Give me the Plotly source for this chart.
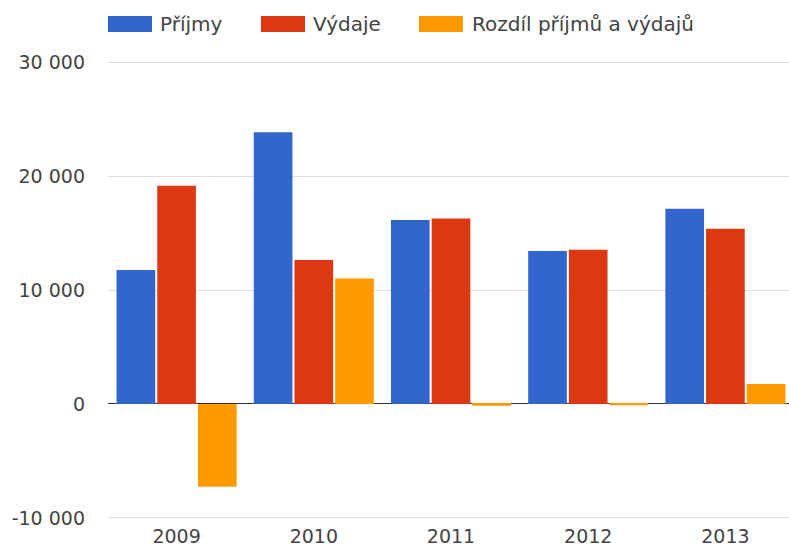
import plotly.graph_objects as go

years = ["2009", "2010", "2011", "2012", "2013"]
prijmy = [11750, 23850, 16150, 13420, 17130]
vydaje = [19150, 12630, 16280, 13540, 15380]
rozdil = [-7250, 11000, -150, -120, 1750]
series_names = ["Příjmy", "Výdaje", "Rozdíl příjmů a výdajů"]
colors = ["#3366cc", "#dc3912", "#ff9900"]
y_tickvals = [-10000, 0, 10000, 20000, 30000]
y_ticktext = ["-10 000", "0", "10 000", "20 000", "30 000"]

W, H = 789, 547
ML, MR, MT, MB = 108, 0, 61, 28
PW, PH = W - ML - MR, H - MT - MB
FONT = "DejaVu Sans"
TXT = "#444444"

fig = go.Figure()
for name, vals, col in zip(series_names, [prijmy, vydaje, rozdil], colors):
    fig.add_trace(go.Bar(x=years, y=vals, name=name, marker=dict(color=col, line=dict(width=0)),
                         showlegend=False))

def px2x(px):
    return (px - ML) / PW

def py2y(py):
    return (H - MB - py) / PH

# custom legend (swatches + labels)
legend_items = [(108, 152, 160), (261, 305, 313), (419, 463, 472)]
shapes = []
annotations = []
for (x0, x1, tx), name, col in zip(legend_items, series_names, colors):
    shapes.append(dict(type="rect", xref="paper", yref="paper",
                       x0=px2x(x0), x1=px2x(x1), y0=py2y(32), y1=py2y(16),
                       fillcolor=col, line=dict(width=0)))
    annotations.append(dict(xref="paper", yref="paper", x=px2x(tx - 2), y=py2y(24),
                            xanchor="left", yanchor="middle", showarrow=False,
                            text=name, font=dict(family=FONT, size=20, color=TXT)))

fig.update_layout(
    width=W, height=H,
    margin=dict(l=ML, r=MR, t=MT, b=MB, pad=0),
    paper_bgcolor="white", plot_bgcolor="white",
    barmode="group", bargap=0.11, bargroupgap=0.05,
    font=dict(family=FONT, size=19, color=TXT),
    shapes=shapes, annotations=annotations,
    xaxis=dict(type="category", range=[-0.5, 4.4635], showgrid=False, zeroline=False,
               showline=False, ticks="", tickfont=dict(family=FONT, size=19, color=TXT),
               ticklabelstandoff=4, automargin=False),
    yaxis=dict(range=[-10090, 30090], tickvals=y_tickvals, ticktext=y_ticktext,
               showgrid=True, gridcolor="#dddddd", gridwidth=1,
               zeroline=True, zerolinecolor="#333333", zerolinewidth=1,
               showline=False, ticks="", ticklabelstandoff=22, automargin=False,
               tickfont=dict(family=FONT, size=19, color=TXT)),
)

fig.write_html("out.html", config={"displayModeBar": False},
               post_script="document.body.style.margin='0';document.body.style.overflow='hidden';")
